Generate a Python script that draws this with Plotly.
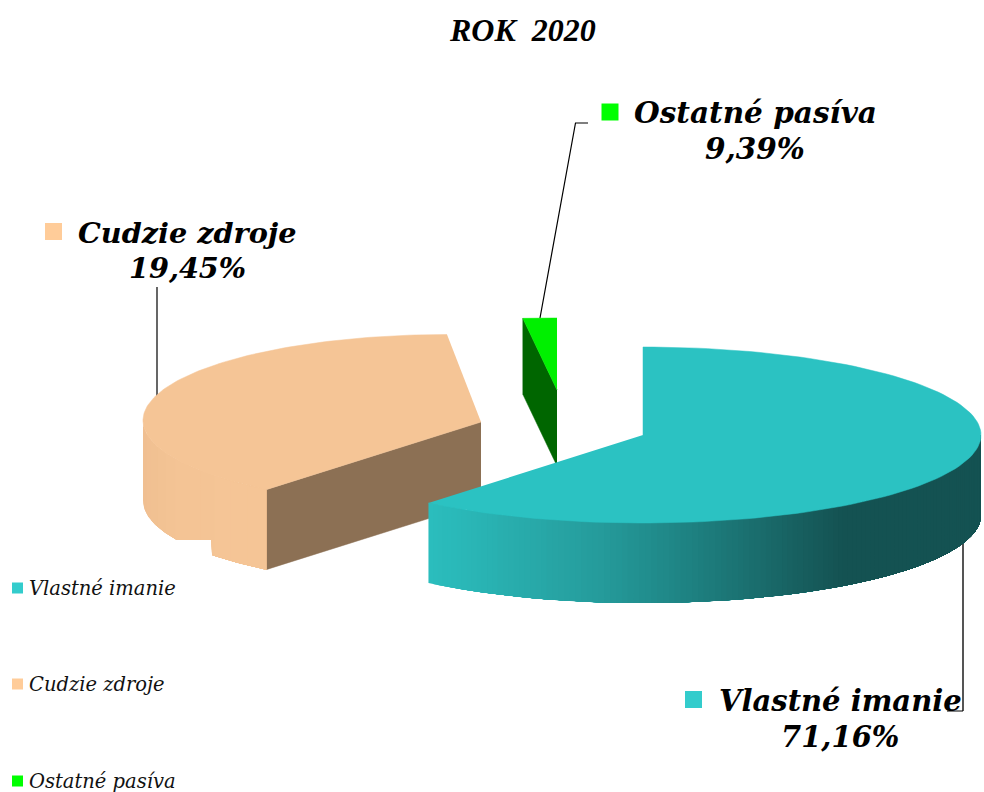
import numpy as np
import plotly.graph_objects as go

# ---- data ----
categories = ["Vlastné imanie", "Cudzie zdroje", "Ostatné pasíva"]
shares = [71.16, 19.45, 9.39]                 # printed labels (%)
drawn_sweep_deg = [219.4, 143.5, 5.8]         # angular size of each wedge as drawn
title_text = "ROK\u00a0\u00a02020"

# ---- styles and layout ----
legend_colors = ["#33CCCC", "#FFCC99", "#00FF00"]
top_colors = ["#2BC2C2", "#F5C596", "#00F000"]
geom = [
    dict(c=(643, 435), apex=(643, 435), r=(338, 88), start=0.0, depth=80),
    dict(c=(447, 420.5), apex=(481, 422), r=(304, 86), start=216.5, depth=80),
    dict(c=(557, 390), apex=(557, 390), r=(338, 72), start=354.2, depth=76),
]
TITLE_FONT = "Liberation Serif"
LABEL_FONT = "DejaVu Serif"
label_sizes = [29, 28.7, 29.5]


def arc(g, a0, a1, n=120, down=0.0):
    t = np.radians(np.linspace(a0, a1, n))
    return g["c"][0] + g["r"][0] * np.sin(t), g["c"][1] - g["r"][1] * np.cos(t) + down


def poly(x, y, color, lw=0.0):
    return go.Scatter(x=list(x), y=list(y), mode="lines", fill="toself", fillcolor=color,
                      line=dict(color=color, width=lw), hoverinfo="skip", showlegend=False)


def lerp_color(stops, v):
    xs = [s[0] for s in stops]
    rgb = [int(round(np.interp(v, xs, [s[1][k] for s in stops]))) for k in range(3)]
    return f"rgb({rgb[0]},{rgb[1]},{rgb[2]})"


def wall(g, a0, a1, stops, steps, notch=None):
    # painter's approach: every strip reaches to the end of the wall, so no seams show
    out = []
    edges = np.linspace(a0, a1, steps + 1)
    for e0, e1 in zip(edges[:-1], edges[1:]):
        n = max(int(abs(a1 - e0) / (0.2 if notch else 3)) + 3, 3)
        xt, yt = arc(g, e0, a1, n)
        xb, yb = arc(g, a1, e0, n, g["depth"])
        if notch:
            yb = np.where((xb > notch[0]) & (xb < notch[1]), np.minimum(yb, notch[2]), yb)
        mx = g["c"][0] + g["r"][0] * np.sin(np.radians((e0 + e1) / 2))
        out.append(poly(np.r_[xt, xb], np.r_[yt, yb], lerp_color(stops, mx)))
    return out


def radial_wall(g, angle, color):
    x, y = arc(g, angle, angle, 1)
    ax, ay = g["apex"]
    d = g["depth"]
    return poly([ax, x[0], x[0], ax], [ay, y[0], y[0] + d, ay + d], color, 0.5)


def top_face(g, sweep, color):
    x, y = arc(g, g["start"], g["start"] + sweep)
    return poly(np.r_[g["apex"][0], x], np.r_[g["apex"][1], y], color, 0.5)


traces = []

# green wedge (furthest back)
g = geom[2]
traces.append(radial_wall(g, g["start"], "#006600"))
traces.append(top_face(g, drawn_sweep_deg[2], top_colors[2]))

# peach wedge
g = geom[1]
traces.append(radial_wall(g, g["start"], "#8C7054"))
peach_stops = [(143, (240, 191, 145)), (175, (244, 196, 149)), (266, (245, 197, 150))]
traces += wall(g, 270, g["start"], peach_stops, 12, notch=(178, 212, 540))
traces.append(top_face(g, drawn_sweep_deg[1], top_colors[1]))

# teal wedge (front)
g = geom[0]
teal_stops = [(427, (43, 190, 190)), (528, (40, 170, 170)), (600, (37, 155, 155)),
              (672, (31, 135, 135)), (744, (27, 113, 113)), (800, (23, 95, 95)),
              (844, (20, 82, 82)), (981, (20, 82, 82))]
traces += wall(g, drawn_sweep_deg[0], 90, teal_stops, 130)
traces.append(top_face(g, drawn_sweep_deg[0], top_colors[0]))

# data-label swatches and small legend swatches
label_pos = [(840, 700.5, 736.5, 693.5, 699.5), (187, 232.5, 267.5, 53.5, 231.5), (755, 112, 148, 610, 112)]
legend_y = [588, 684, 781]
for i, cat in enumerate(categories):
    traces.append(go.Scatter(x=[label_pos[i][3]], y=[label_pos[i][4]], mode="markers",
                             marker=dict(symbol="square", size=17, color=legend_colors[i], line_width=0),
                             hoverinfo="skip", showlegend=False))
    traces.append(go.Scatter(x=[17.5], y=[legend_y[i]], mode="markers",
                             marker=dict(symbol="square", size=11, color=legend_colors[i], line_width=0),
                             hoverinfo="skip", showlegend=False))

fmt = lambda v: f"{v:.2f}".replace(".", ",") + "%"
annotations = [dict(x=522, y=30, text=f"<b><i>{title_text}</i></b>", showarrow=False,
                    font=dict(family=TITLE_FONT, size=32, color="#000000"))]
for i, cat in enumerate(categories):
    lx, y1, y2, _, _ = label_pos[i]
    annotations.append(dict(x=lx, y=y1, text=f"<b><i>{cat}</i></b>", showarrow=False,
                            font=dict(family=LABEL_FONT, size=label_sizes[i], color="#000000")))
    annotations.append(dict(x=lx, y=y2, text=f"<b><i>{fmt(shares[i])}</i></b>", showarrow=False,
                            font=dict(family=LABEL_FONT, size=label_sizes[i], color="#000000")))
    annotations.append(dict(x=27, y=legend_y[i], text=f"<i>{cat}</i>", showarrow=False, xanchor="left",
                            font=dict(family=LABEL_FONT, size=19.5, color="#111111")))

leaders = [
    ([157, 157], [287, 396], "#000000", 1.2),
    ([540, 575.5, 588], [318, 123, 123], "#000000", 1.2),
    ([963, 963], [544, 711], "#555555", 2),
    ([947, 963], [711, 711], "#000000", 1),
]
shapes = []
for xs, ys, col, w in leaders:
    path = "M " + " L ".join(f"{a},{b}" for a, b in zip(xs, ys))
    shapes.append(dict(type="path", path=path, line=dict(color=col, width=w), layer="below"))

fig = go.Figure(traces)
fig.update_layout(
    width=984, height=792, margin=dict(l=0, r=0, t=0, b=0),
    paper_bgcolor="white", plot_bgcolor="white", showlegend=False,
    xaxis=dict(range=[0, 984], visible=False, fixedrange=True),
    yaxis=dict(range=[792, 0], visible=False, fixedrange=True),
    annotations=annotations, shapes=shapes,
)
fig.write_html("out.html", config=dict(displayModeBar=False),
               post_script="document.body.style.margin='0';document.body.style.overflow='hidden';")
